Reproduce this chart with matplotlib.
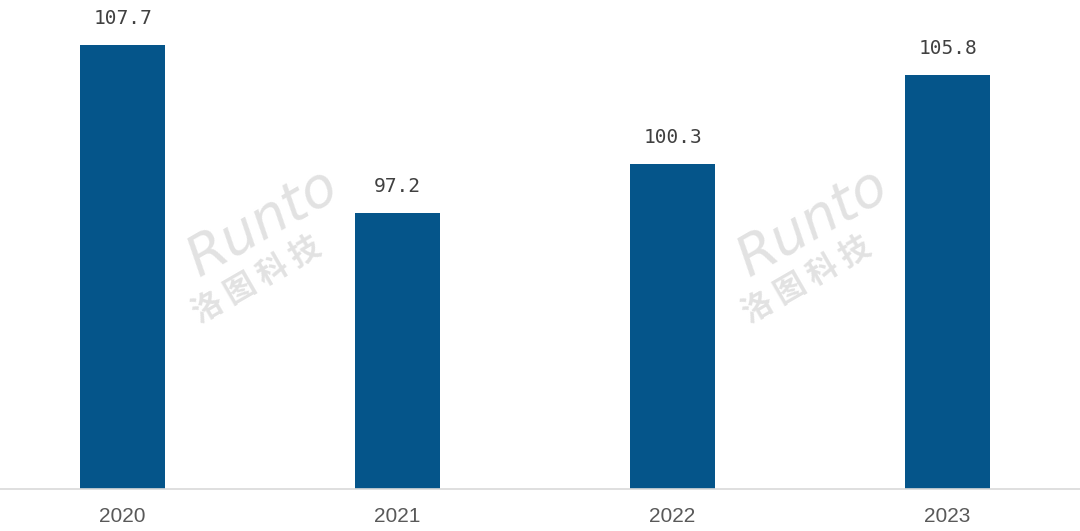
import matplotlib
matplotlib.use("Agg")
import matplotlib.pyplot as plt

# --- data ---
years = ["2020", "2021", "2022", "2023"]
values = [107.7, 97.2, 100.3, 105.8]
value_labels = ["107.7", "97.2", "100.3", "105.8"]

BAR_COLOR = "#05558A"

fig = plt.figure(figsize=(10.8, 5.31), dpi=100)
# axes slightly wider than the figure so category centres line up
ax = fig.add_axes([-15 / 1080, 42 / 531, 1100 / 1080, 489 / 531])

x = range(len(years))
ax.bar(x, values, width=0.312, color=BAR_COLOR, zorder=2)
ax.set_xlim(-0.5, len(years) - 0.5)
ax.set_ylim(80, 110.5)

for i, (v, lab) in enumerate(zip(values, value_labels)):
    ax.annotate(lab, (i, v), xytext=(0, 19), textcoords="offset points",
                ha="center", va="center", fontsize=14,
                family="DejaVu Sans Mono", color="#404040")

ax.set_xticks(list(x))
ax.set_xticklabels(years, fontsize=15, family="Liberation Sans", color="#595959")
ax.tick_params(axis="x", length=0, pad=13)
ax.set_yticks([])
for side in ["top", "right", "left"]:
    ax.spines[side].set_visible(False)
ax.spines["bottom"].set_color("#d9d9d9")
ax.spines["bottom"].set_linewidth(1.2)

# --- watermark ---
wm_color = "#e2e2e2"
for cx in [262, 812]:
    fig.text(cx / 1080, 1 - 222 / 531, "Runto", fontsize=40, style="italic",
             family="DejaVu Sans", color=wm_color, rotation=30,
             ha="center", va="center", zorder=1)
    fig.text((cx - 5) / 1080, 1 - 280 / 531, "洛 图 科 技", fontsize=22,
             family=["Noto Sans CJK SC", "DejaVu Sans"], weight="bold",
             color=wm_color, rotation=30, ha="center", va="center", zorder=1)

fig.savefig("out.png", dpi=100)
